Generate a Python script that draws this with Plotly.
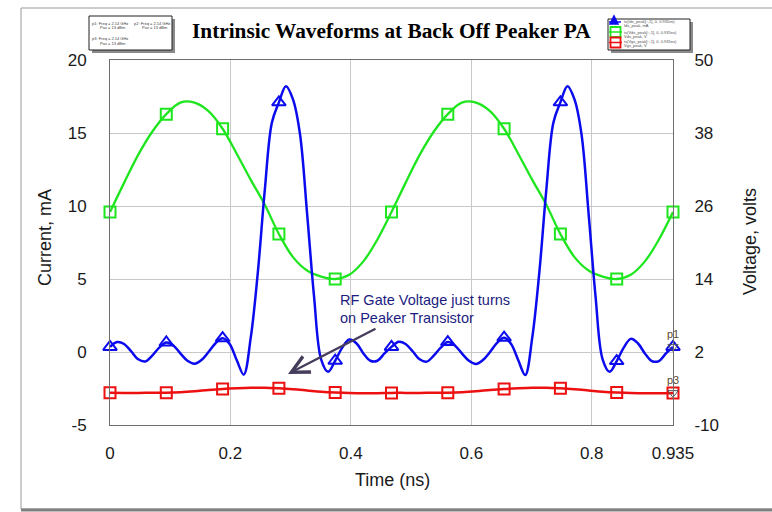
import plotly.graph_objects as go

# ---- sampled waveforms (two RF periods at 2.14 GHz) ----
time_ns = [0, 0.0117, 0.0234, 0.0351, 0.0468, 0.0584, 0.0701, 0.0818, 0.0935, 0.1052,
           0.1169, 0.1286, 0.1403, 0.1519, 0.1636, 0.1753, 0.187, 0.1987, 0.2104, 0.2221,
           0.2338, 0.2454, 0.2571, 0.2688, 0.2805, 0.2922, 0.3039, 0.3156, 0.3273, 0.3389,
           0.3506, 0.3623, 0.374, 0.3857, 0.3974, 0.4091, 0.4208, 0.4324, 0.4441, 0.4558,
           0.4675, 0.4792, 0.4909, 0.5026, 0.5143, 0.5259, 0.5376, 0.5493, 0.561, 0.5727,
           0.5844, 0.5961, 0.6078, 0.6194, 0.6311, 0.6428, 0.6545, 0.6662, 0.6779, 0.6896,
           0.7013, 0.7129, 0.7246, 0.7363, 0.748, 0.7597, 0.7714, 0.7831, 0.7948, 0.8064,
           0.8181, 0.8298, 0.8415, 0.8532, 0.8649, 0.8766, 0.8883, 0.8999, 0.9116, 0.9233,
           0.935]

# peaker drain current, mA (sampled on time_ns)
ids_ma = [0.35, 0.68, 0.55, 0.05, -0.5, -0.65, -0.25, 0.3, 0.65, 0.45,
          -0.1, -0.6, -0.8, -0.55, 0.0, 0.6, 0.95, 0.55, -0.55, -1.55,
          1.0, 5.4, 11.1, 15.7, 17.1, 18.2, 17.3, 14.9, 9.5, 3.8,
          -0.5, -1.35, -0.6, 0.3, 0.85, 0.6, -0.1, -0.6, -0.6, -0.1,
          0.35, 0.7, 0.55, 0.05, -0.5, -0.66, -0.25, 0.3, 0.68, 0.45,
          -0.1, -0.6, -0.82, -0.55, 0.0, 0.62, 0.98, 0.55, -0.55, -1.58,
          1.0, 5.4, 11.1, 15.7, 17.1, 18.2, 17.3, 14.9, 9.5, 3.8,
          -0.5, -1.35, -0.62, 0.3, 0.9, 0.6, -0.1, -0.62, -0.62, -0.1,
          0.35]

# voltages are sampled on every other time point
time_v = time_ns[::2]

# drain voltage, volts
vds_v = [25.0, 29.8, 34.4, 38.2, 41.1, 43.0, 43.0, 41.6, 38.7, 34.6,
         30.3, 26.2, 21.4, 17.6, 15.4, 14.4, 14.0, 14.7, 16.9, 20.5,
         25.0, 29.8, 34.4, 38.2, 41.1, 43.0, 43.0, 41.6, 38.7, 34.6,
         30.3, 26.2, 21.4, 17.6, 15.4, 14.4, 14.0, 14.7, 16.9, 20.5,
         25.0]

# gate voltage, volts
vgs_v = [-4.7, -4.72, -4.72, -4.7, -4.68, -4.6, -4.45, -4.25, -4.08, -3.96,
         -3.88, -3.87, -3.97, -4.12, -4.32, -4.52, -4.66, -4.76, -4.8, -4.78,
         -4.72, -4.72, -4.72, -4.7, -4.68, -4.6, -4.45, -4.25, -4.08, -3.96,
         -3.88, -3.87, -3.97, -4.12, -4.32, -4.52, -4.66, -4.76, -4.8, -4.78,
         -4.72]

x_ticks = [0, 0.2, 0.4, 0.6, 0.8, 0.935]
x_tick_text = ["0", "0.2", "0.4", "0.6", "0.8", "0.935"]
i_ticks = [-5, 0, 5, 10, 15, 20]
i_tick_text = ["-5", "0", "5", "10", "15", "20"]
v_ticks = [-10, 2, 14, 26, 38, 50]
v_tick_text = ["-10", "2", "14", "26", "38", "50"]

BLUE = "#0b0bee"
GREEN = "#1ee61e"
RED = "#ec1010"
FONT = "Liberation Sans, Arial, sans-serif"

# plot-area geometry in pixels (used to place decorations)
L, R, T, B = 110, 673, 60, 425


def px(xp):
    return (xp - L) / (R - L)


def py(yp):
    return (B - yp) / (B - T)


fig = go.Figure()

# voltages on the base (right) axis
fig.add_trace(go.Scatter(x=time_v, y=vds_v, mode="lines", yaxis="y",
                         line=dict(color=GREEN, width=2.3, shape="spline", smoothing=1),
                         cliponaxis=False, hoverinfo="skip"))
fig.add_trace(go.Scatter(x=time_v[::4], y=vds_v[::4], mode="markers", yaxis="y",
                         marker=dict(symbol="square-open", size=11, color=GREEN,
                                     line=dict(width=2, color=GREEN)),
                         cliponaxis=False, hoverinfo="skip"))
fig.add_trace(go.Scatter(x=time_v, y=vgs_v, mode="lines", yaxis="y",
                         line=dict(color=RED, width=2.5, shape="spline", smoothing=1),
                         cliponaxis=False, hoverinfo="skip"))
fig.add_trace(go.Scatter(x=time_v[::4], y=vgs_v[::4], mode="markers", yaxis="y",
                         marker=dict(symbol="square-open", size=11, color=RED,
                                     line=dict(width=2, color=RED)),
                         cliponaxis=False, hoverinfo="skip"))

# current on the overlaid (left) axis
fig.add_trace(go.Scatter(x=time_ns, y=ids_ma, mode="lines", yaxis="y2",
                         line=dict(color=BLUE, width=2.5, shape="spline", smoothing=1),
                         cliponaxis=False, hoverinfo="skip"))
fig.add_trace(go.Scatter(x=time_ns[::8], y=ids_ma[::8], mode="markers", yaxis="y2",
                         marker=dict(symbol="triangle-up-open", size=12, color=BLUE,
                                     line=dict(width=2, color=BLUE)),
                         cliponaxis=False, hoverinfo="skip"))

# end-of-trace markers p1 / p3
fig.add_trace(go.Scatter(x=[time_ns[-1]], y=[ids_ma[-1]], mode="markers+text", yaxis="y2",
                         text=["p1"], textposition="top center",
                         textfont=dict(family=FONT, size=11, color="#5c4a2e"),
                         marker=dict(symbol="triangle-down-open", size=9, color="#555555",
                                     line=dict(width=1, color="#555555")),
                         cliponaxis=False, hoverinfo="skip"))
fig.add_trace(go.Scatter(x=[time_v[-1]], y=[vgs_v[-1]], mode="markers+text", yaxis="y",
                         text=["p3"], textposition="top center",
                         textfont=dict(family=FONT, size=11, color="#5c4a2e"),
                         marker=dict(symbol="triangle-down-open", size=9, color="#555555",
                                     line=dict(width=1, color="#555555")),
                         cliponaxis=False, hoverinfo="skip"))

GRID = "#c8c8c8"
FRAME = "#6e6e6e"
CLEAR = "rgba(0,0,0,0)"

shapes = []
# outer page frame
shapes.append(dict(type="rect", xref="paper", yref="paper",
                   x0=px(21), x1=px(800), y0=py(509), y1=py(8),
                   line=dict(color="#9a9a9a", width=1), layer="below"))
shapes.append(dict(type="line", xref="paper", yref="paper",
                   x0=px(21), x1=px(800), y0=py(510), y1=py(510),
                   line=dict(color="#808080", width=3)))


def box(x0, y0, x1, y1):
    # white panel with a grey drop shadow
    shapes.append(dict(type="rect", xref="paper", yref="paper",
                       x0=px(x0 + 3), x1=px(x1 + 3), y0=py(y1 + 3), y1=py(y0 + 3),
                       fillcolor="#8a8a8a", line=dict(width=0)))
    shapes.append(dict(type="rect", xref="paper", yref="paper",
                       x0=px(x0), x1=px(x1), y0=py(y1), y1=py(y0),
                       fillcolor="white", line=dict(color="#202020", width=1)))


box(89, 16, 172, 50)
box(608, 19, 690, 50)

# legend symbols in the right panel
shapes.append(dict(type="line", xref="paper", yref="paper",
                   x0=px(609), x1=px(621), y0=py(22), y1=py(22),
                   line=dict(color=BLUE, width=1.5)))
shapes.append(dict(type="path", xref="paper", yref="paper",
                   path=f"M{px(610)},{py(24)} L{px(618)},{py(24)} L{px(614)},{py(16)} Z",
                   fillcolor=BLUE, line=dict(color=BLUE, width=1.5)))
for yc, col in ((32, GREEN), (42.5, RED)):
    shapes.append(dict(type="line", xref="paper", yref="paper",
                       x0=px(609), x1=px(622), y0=py(yc), y1=py(yc),
                       line=dict(color=col, width=1.5)))
    shapes.append(dict(type="rect", xref="paper", yref="paper",
                       x0=px(610.5), x1=px(620.5), y0=py(yc + 5), y1=py(yc - 5),
                       line=dict(color=col, width=1.8)))

ann = []


def txt(x, y, s, size, color="#222222", xanchor="left", **kw):
    ann.append(dict(xref="paper", yref="paper", x=px(x), y=py(y), text=s,
                    showarrow=False, xanchor=xanchor, yanchor="middle",
                    font=dict(family=kw.pop("family", FONT), size=size, color=color), **kw))


# title
txt(391, 31, "<b>Intrinsic Waveforms at Back Off Peaker PA</b>", 21.3, "#000000",
    xanchor="center", family="Liberation Serif, Times New Roman, serif")

# tiny legend texts
small = 4
txt(90, 23, "p1: Freq = 2.14 GHz", small, "#404040")
txt(98, 27, "Pav = 13 dBm", small, "#404040")
txt(132, 23, "p2: Freq = 2.14 GHz", small, "#404040")
txt(140, 27, "Pav = 13 dBm", small, "#404040")
txt(90, 39, "p3: Freq = 2.14 GHz", small, "#404040")
txt(98, 43, "Pav = 13 dBm", small, "#404040")
txt(622, 22, "ts(Ids_peak[::,1], 0, 0.935ns)", small, "#505050")
txt(622, 26, "Ids_peak, mA", small, "#505050")
txt(622, 32, "ts(Vds_peak[::,1], 0, 0.935ns)", small, "#505050")
txt(622, 36, "Vds_peak, V", small, "#505050")
txt(622, 42, "ts(Vgs_peak[::,1], 0, 0.935ns)", small, "#505050")
txt(622, 46, "Vgs_peak, V", small, "#505050")

# axis titles
txt(45, 238, "Current, mA", 18, "#1a1a1a", xanchor="center", textangle=-90)
txt(750, 242, "Voltage, volts", 18, "#1a1a1a", xanchor="center", textangle=-90)
txt(392, 480, "Time (ns)", 18, "#1a1a1a", xanchor="center")

# callout
NAVY = "#1c1c80"
txt(338, 300, "RF Gate Voltage just turns", 14.5, NAVY)
txt(338, 317.5, "on Peaker Transistor", 14.5, NAVY)
ann.append(dict(xref="paper", yref="paper", x=px(288), y=py(374), text="",
                showarrow=True, ax=377 - 288, ay=328 - 374,
                arrowhead=5, arrowsize=1.5, arrowwidth=2.3, arrowcolor="#463c5c",
                standoff=0, startstandoff=0))

fig.update_layout(
    width=772, height=512, autosize=False,
    margin=dict(l=L, r=772 - R, t=T, b=512 - B),
    paper_bgcolor="white", plot_bgcolor="white",
    showlegend=False,
    font=dict(family=FONT, size=17, color="#1a1a1a"),
    xaxis=dict(range=[0, 0.935], tickvals=x_ticks, ticktext=x_tick_text,
               showgrid=True, gridcolor=GRID, gridwidth=1, zeroline=False,
               showline=True, linecolor=FRAME, linewidth=1, mirror=True,
               ticks="outside", ticklen=13, tickcolor=CLEAR,
               tickfont=dict(family=FONT, size=17, color="#1a1a1a")),
    yaxis=dict(range=[-10, 50], tickvals=v_ticks, ticktext=v_tick_text, side="right",
               showgrid=True, gridcolor=GRID, gridwidth=1, zeroline=False,
               showline=True, linecolor=FRAME, linewidth=1, mirror=True,
               ticks="outside", ticklen=17, tickcolor=CLEAR,
               tickfont=dict(family=FONT, size=17, color="#1a1a1a")),
    yaxis2=dict(range=[-5, 20], tickvals=i_ticks, ticktext=i_tick_text,
                side="left", overlaying="y",
                showgrid=False, zeroline=False,
                showline=True, linecolor=FRAME, linewidth=1,
                ticks="outside", ticklen=19, tickcolor=CLEAR,
                tickfont=dict(family=FONT, size=17, color="#1a1a1a")),
    shapes=shapes,
    annotations=ann,
)

fig.write_html("out.html")
